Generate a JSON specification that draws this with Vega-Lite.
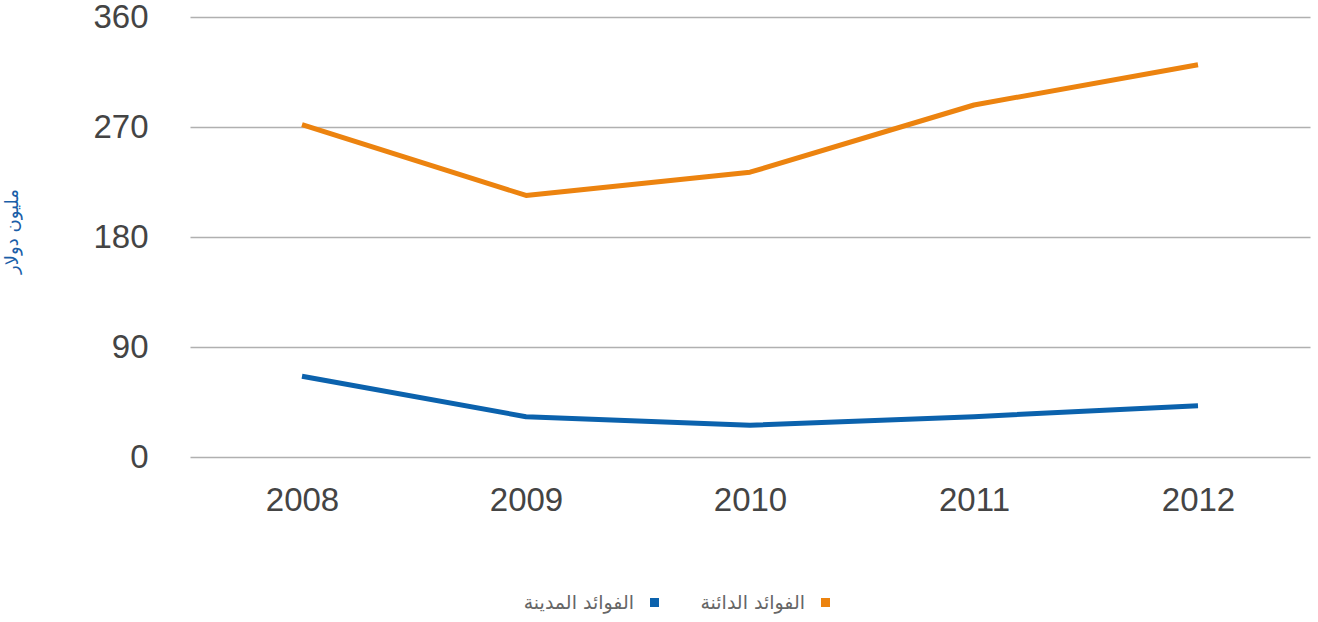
{
  "$schema": "https://vega.github.io/schema/vega-lite/v6.json",
  "width": 1120,
  "height": 440,
  "autosize": {"type": "none"},
  "padding": {"left": 190, "top": 17, "right": 8, "bottom": 165},
  "background": "white",
  "config": {"view": {"stroke": null}},
  "data": {
    "values": [
      {"year": "2008", "series": "الفوائد الدائنة", "value": 272},
      {"year": "2009", "series": "الفوائد الدائنة", "value": 214},
      {"year": "2010", "series": "الفوائد الدائنة", "value": 233},
      {"year": "2011", "series": "الفوائد الدائنة", "value": 288},
      {"year": "2012", "series": "الفوائد الدائنة", "value": 321},
      {"year": "2008", "series": "الفوائد المدينة", "value": 66},
      {"year": "2009", "series": "الفوائد المدينة", "value": 33},
      {"year": "2010", "series": "الفوائد المدينة", "value": 26},
      {"year": "2011", "series": "الفوائد المدينة", "value": 33},
      {"year": "2012", "series": "الفوائد المدينة", "value": 42}
    ]
  },
  "mark": {"type": "line", "strokeWidth": 5, "strokeJoin": "round", "strokeCap": "butt"},
  "encoding": {
    "x": {
      "field": "year", "type": "ordinal",
      "scale": {"type": "point", "padding": 0.5},
      "axis": {
        "title": null, "labelAngle": 0, "domain": false, "ticks": false, "grid": false,
        "labelFont": "Liberation Sans", "labelFontSize": 33, "labelColor": "#444444",
        "labelPadding": 27
      }
    },
    "y": {
      "field": "value", "type": "quantitative",
      "scale": {"domain": [0, 360], "nice": false},
      "axis": {
        "values": [0, 90, 180, 270, 360],
        "title": "مليون دولار",
        "titleColor": "#1a5ea8", "titleFont": "DejaVu Sans", "titleFontSize": 18, "titleFontWeight": "normal",
        "titleX": -169, "titleY": 214,
        "domain": false, "ticks": false,
        "grid": true, "gridColor": "#b0b0b0", "gridWidth": 1.5,
        "labelFont": "Liberation Sans", "labelFontSize": 33, "labelColor": "#444444",
        "labelPadding": 42, "labelBaseline": "middle", "labelFlush": false
      }
    },
    "color": {
      "field": "series", "type": "nominal",
      "scale": {"domain": ["الفوائد المدينة", "الفوائد الدائنة"], "range": ["#0b62ad", "#ec830f"]},
      "legend": {
        "title": null, "orient": "none", "direction": "horizontal",
        "legendX": 455, "legendY": 576,
        "symbolType": "square", "symbolSize": 1, "symbolStrokeWidth": 8,
        "labelAlign": "right", "labelOffset": -30,
        "labelFont": "DejaVu Sans", "labelFontSize": 19, "labelColor": "#666666",
        "columnPadding": 29
      }
    }
  }
}
